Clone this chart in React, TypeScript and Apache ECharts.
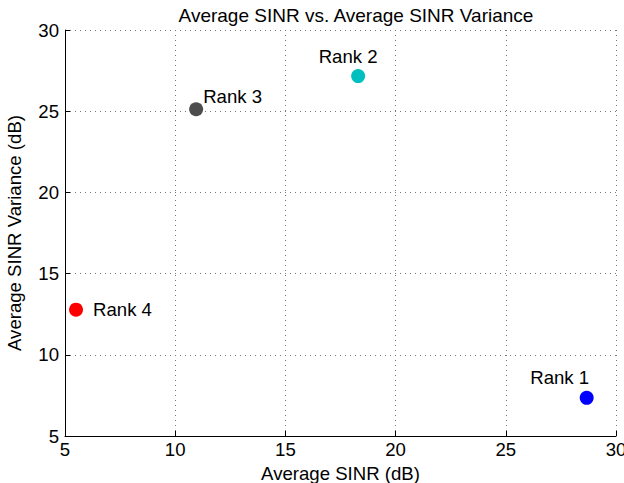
import React, { useEffect, useRef } from "react";
import * as echarts from "echarts";

const rankNames = ["Rank 1", "Rank 2", "Rank 3", "Rank 4"];
const avgSinr = [28.67, 18.3, 10.95, 5.5];
const avgSinrVariance = [7.35, 27.16, 25.12, 12.78];
const pointColors = ["#0000ff", "#00bfbf", "#4d4d4d", "#ff0000"];
const labelPositions = ["top", "top", "right", "right"];
const labelOffsets = [[-27, 1], [-10, 2], [-5, -13], [5, 0]];

const FONT = "Liberation Sans, Arial, Helvetica, sans-serif";
const FS = 18.6;

export default function App() {
  const ref = useRef<HTMLDivElement>(null);
  useEffect(() => {
    if (!ref.current) return;
    const chart = echarts.init(ref.current, undefined, { renderer: "svg" });
    const data = rankNames.map((n, i) => ({
      name: n,
      value: [avgSinr[i], avgSinrVariance[i]],
      itemStyle: { color: pointColors[i], opacity: 1 },
      label: {
        show: true,
        formatter: n,
        position: labelPositions[i],
        offset: labelOffsets[i],
        color: "#000",
        fontSize: FS,
        fontFamily: FONT,
      },
    }));
    const gridLine = { show: true, lineStyle: { type: [1, 4] as any, color: "#777", width: 1 } };
    chart.setOption({
      animation: false,
      backgroundColor: "#fff",
      title: {
        text: "Average SINR vs. Average SINR Variance",
        left: 351,
        textAlign: "center",
        top: 1,
        textStyle: { fontSize: 19, fontWeight: "normal", color: "#000", fontFamily: FONT },
      },
      grid: { left: 65, right: 8, top: 30, bottom: 47, outerBoundsMode: "none", containLabel: false },
      xAxis: {
        type: "value",
        min: 5,
        max: 30,
        interval: 5,
        name: "Average SINR (dB)",
        nameLocation: "middle",
        nameGap: 20,
        nameTextStyle: { fontSize: FS, color: "#000", fontFamily: FONT },
        axisLine: { show: true, onZero: false, lineStyle: { color: "#000", width: 1 } },
        axisTick: { show: true, inside: true, length: 5, lineStyle: { color: "#000" } },
        axisLabel: { fontSize: FS, color: "#000", fontFamily: FONT, margin: 4 },
        splitLine: gridLine,
      },
      yAxis: {
        type: "value",
        min: 5,
        max: 30,
        interval: 5,
        name: "Average SINR Variance (dB)",
        nameLocation: "middle",
        nameGap: 41,
        nameTextStyle: { fontSize: FS, color: "#000", fontFamily: FONT },
        axisLine: { show: true, onZero: false, lineStyle: { color: "#000", width: 1 } },
        axisTick: { show: true, inside: true, length: 5, lineStyle: { color: "#000" } },
        axisLabel: { fontSize: FS, color: "#000", fontFamily: FONT, margin: 6 },
        splitLine: gridLine,
      },
      series: [
        {
          type: "scatter",
          symbol: "circle",
          symbolSize: 14,
          data,
        },
      ],
    });
    return () => chart.dispose();
  }, []);
  return <div ref={ref} style={{ width: 624, height: 483, position: "absolute", left: 0, top: 0 }} />;
}
